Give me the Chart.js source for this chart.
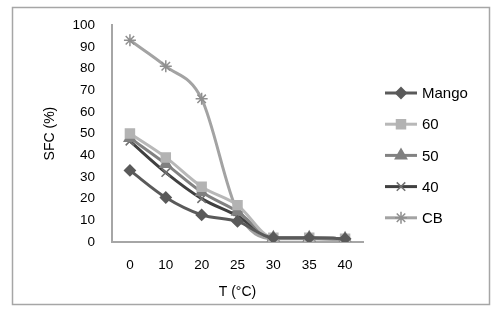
<!DOCTYPE html>
<html><head><meta charset="utf-8">
<script src="https://cdn.jsdelivr.net/npm/chart.js@4"></script>
<style>html,body{margin:0;padding:0;background:#fff}#wrap{width:500px;height:315px}</style>
</head><body><div id="wrap"><canvas id="c" width="500" height="315"></canvas></div>
<script>
const categories = ['0','10','20','25','30','35','40'];
const mango = [33, 20.5, 12.5, 9.5, 2, 2, 1.5];
const s60 = [50, 39, 25.5, 17, 2, 2, 1.5];
const s50 = [48, 36, 23, 14, 2, 2, 1.5];
const s40 = [46.5, 32, 20, 12, 2, 2, 1.5];
const cb = [93, 81, 66, 14, 1.5, 1.5, 1];
const yTicks = [0,10,20,30,40,50,60,70,80,90,100];
const seriesNames = ['Mango','60','50','40','CB'];
const FONT = '"Liberation Sans", Arial, sans-serif';

function ds(label, data, color, ptColor, style, r, bw){
  return {label, data, borderColor: color, backgroundColor: ptColor, pointBorderColor: ptColor,
    pointBackgroundColor: ptColor, pointStyle: style, pointRadius: r, pointBorderWidth: bw,
    borderWidth: 3, tension: 0.35, cubicInterpolationMode: 'monotone', fill: false};
}

const frame = {
  id: 'frame',
  beforeDraw(chart){
    const ctx = chart.ctx;
    ctx.save();
    ctx.fillStyle = '#fff';
    ctx.fillRect(0,0,chart.width,chart.height);
    ctx.strokeStyle = '#a6a6a6';
    ctx.lineWidth = 1.5;
    ctx.strokeRect(12.5,7.5,477,297);
    ctx.restore();
  },
  afterDraw(chart){
    const ctx = chart.ctx;
    ctx.save();
    chart.data.datasets.forEach((d,i)=>{
      const y = 93 + i*31.2;
      ctx.strokeStyle = d.borderColor;
      ctx.lineWidth = 3;
      ctx.beginPath(); ctx.moveTo(385,y); ctx.lineTo(417,y); ctx.stroke();
      ctx.strokeStyle = d.pointBorderColor; ctx.fillStyle = d.pointBackgroundColor;
      ctx.lineWidth = d.pointBorderWidth;
      Chart.helpers.drawPoint(ctx, {pointStyle: d.pointStyle, radius: d.pointRadius, borderWidth: d.pointBorderWidth, rotation: 0}, 401, y);
      ctx.fillStyle = '#000';
      ctx.font = '15px ' + FONT;
      ctx.textBaseline = 'middle';
      ctx.textAlign = 'left';
      ctx.fillText(d.label, 422, y+1);
    });
    ctx.restore();
  }
};

new Chart(document.getElementById('c'), {
  type: 'line',
  data: {
    labels: categories,
    datasets: [
      ds(seriesNames[0], mango, '#5a5a5a', '#5a5a5a', 'rectRot', 5, 2),
      ds(seriesNames[1], s60, '#b8b8b8', '#b3b3b3', 'rect', 6, 2),
      ds(seriesNames[2], s50, '#828282', '#808080', 'triangle', 6, 2),
      ds(seriesNames[3], s40, '#404040', '#707070', 'crossRot', 6, 1.5),
      ds(seriesNames[4], cb, '#a3a3a3', '#8f8f8f', 'star', 6, 1.5)
    ]
  },
  options: {
    responsive: false,
    animation: false,
    layout: {padding: {left: 13, top: 25, right: 137, bottom: 10}},
    plugins: {legend: {display: false}, tooltip: {enabled: false}},
    scales: {
      x: {
        offset: true,
        grid: {display: false, drawTicks: false},
        border: {display: true, color: '#a6a6a6', width: 2},
        ticks: {color: '#000', padding: 15, font: {size: 13.5, family: FONT}},
        title: {display: true, text: 'T (\u00B0C)', color: '#000', padding: {top: 0, bottom: 4}, font: {size: 14, family: FONT}},
        afterFit(s){ s.height = 63; }
      },
      y: {
        min: 0, max: 100,
        afterBuildTicks(s){ s.ticks = yTicks.map(v=>({value: v})); },
        grid: {display: false, drawTicks: false},
        border: {display: true, color: '#a6a6a6', width: 2},
        ticks: {color: '#000', padding: 17, font: {size: 13.5, family: FONT}},
        title: {display: true, text: 'SFC (%)', color: '#000', padding: {top: 29, bottom: 0}, font: {size: 14, family: FONT}},
        afterFit(s){ s.width = 99; }
      }
    }
  },
  plugins: [frame]
});
</script></body></html>
